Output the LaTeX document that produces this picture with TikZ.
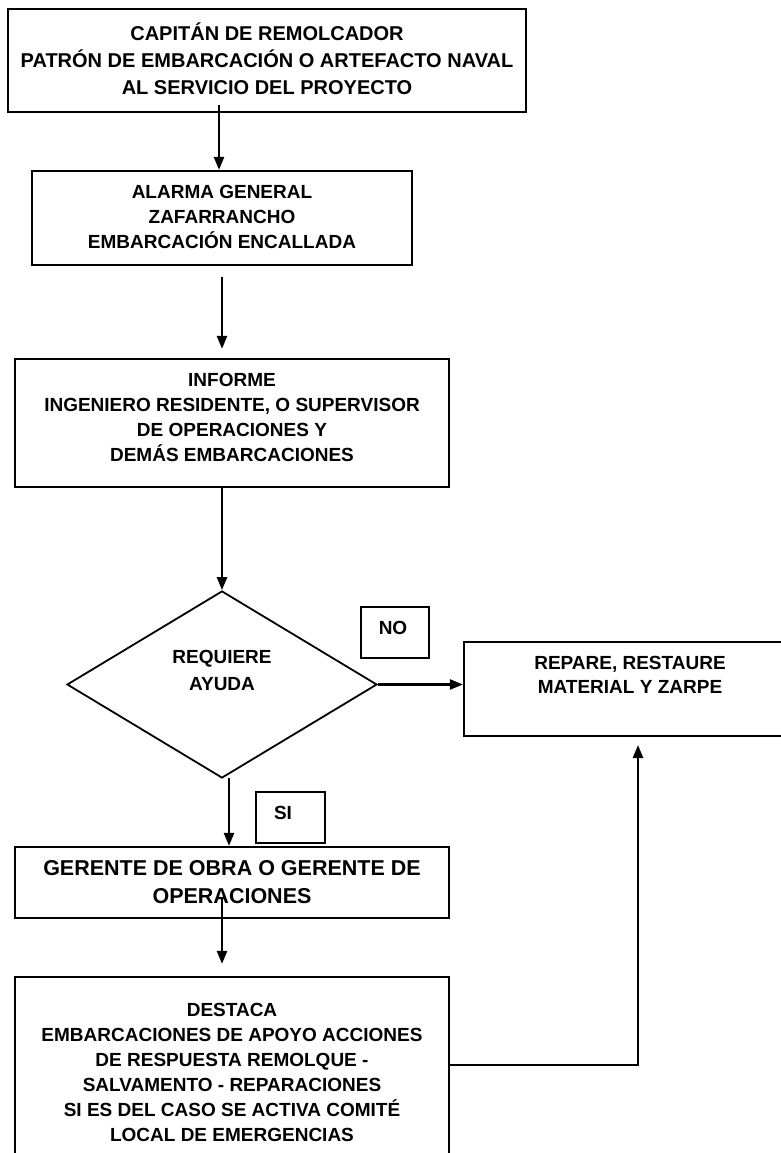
\documentclass[tikz,border=0pt]{standalone}
\usepackage{fontspec}
\setmainfont{Liberation Sans}
\usetikzlibrary{arrows.meta,shapes.geometric,calc}
\begin{document}
\begin{tikzpicture}[x=1pt,y=-1pt,
  box/.style={draw, rectangle, line width=2.2pt, inner sep=0pt},
  decbox/.style={draw, diamond, line width=1.8pt, inner sep=0pt},
  txt/.style={align=center, inner sep=0pt, font=\fontsize{19}{25}\selectfont\bfseries},
  arr/.style={line width=2.4pt, -{Triangle[length=13pt,width=10pt]}}
]
\useasboundingbox[fill=white] (0,0) rectangle (780,1153);

\node[box, minimum width=518pt, minimum height=103pt,
  label={[txt, font=\fontsize{20}{27}\selectfont\bfseries, yshift=1.5pt]center:{CAPITÁN DE REMOLCADOR\\PATRÓN DE EMBARCACIÓN O ARTEFACTO NAVAL\\AL SERVICIO DEL PROYECTO}}]
  (top) at (267,60.5) {};

\node[box, minimum width=380pt, minimum height=94pt,
  label={[txt, yshift=1pt]center:{ALARMA GENERAL\\ZAFARRANCHO\\EMBARCACIÓN ENCALLADA}}]
  (alarma) at (222,218) {};

\node[box, minimum width=434pt, minimum height=128pt,
  label={[txt, yshift=5.5pt]center:{INFORME\\INGENIERO RESIDENTE, O SUPERVISOR\\DE OPERACIONES Y\\DEMÁS EMBARCACIONES}}]
  (informe) at (232,423) {};

\node[decbox, minimum width=310pt, minimum height=187pt,
  label={[txt, font=\fontsize{19}{27}\selectfont\bfseries, yshift=14pt]center:{REQUIERE\\AYUDA}}]
  (dec) at (222,684.5) {};

\node[box, line width=1.9pt, minimum width=68pt, minimum height=51pt,
  label={[txt, xshift=-2pt, yshift=4.5pt]center:{NO}}]
  (no) at (395,632.5) {};

\node[box, minimum width=332pt, minimum height=94pt,
  label={[txt, font=\fontsize{19}{24}\selectfont\bfseries, yshift=14pt]center:{REPARE, RESTAURE\\MATERIAL Y ZARPE}}]
  (repare) at (630,689) {};

\node[box, line width=1.9pt, minimum width=69pt, minimum height=51pt,
  label={[txt, xshift=-7.5pt, yshift=4.5pt]center:{SI}}]
  (si) at (290.5,817.5) {};

\node[box, minimum width=434pt, minimum height=71pt,
  label={[txt, font=\fontsize{21.5}{28}\selectfont\bfseries]center:{GERENTE DE OBRA O GERENTE DE\\OPERACIONES}}]
  (gerente) at (232,882.5) {};

\node[box, minimum width=434pt, minimum height=188pt,
  label={[txt, yshift=-1pt]center:{DESTACA\\EMBARCACIONES DE APOYO ACCIONES\\DE RESPUESTA REMOLQUE -\\SALVAMENTO - REPARACIONES\\SI ES DEL CASO SE ACTIVA COMITÉ\\LOCAL DE EMERGENCIAS}}]
  (destaca) at (232,1071) {};

% connectors
\coordinate (c1) at (219,105);
\draw[arr] (c1) -- (c1 |- alarma.north);

\draw[arr, shorten <=11pt, shorten >=9pt] (alarma.south) -- (alarma.south |- informe.north);

\draw[arr] (dec.north |- informe.south) -- (dec.north);

\draw[arr] (dec.east) -- (dec.east -| repare.west);

\coordinate (c2) at (229,778);
\draw[arr] (c2) -- (c2 |- gerente.north);

\coordinate (c3) at (222,898);
\draw[arr, shorten >=12pt] (c3) -- (c3 |- destaca.north);

\coordinate (c4) at (449,1065);
\coordinate (c5) at (638,736);
\draw[arr, shorten >=9pt] (c4) -| (c5);
\end{tikzpicture}
\end{document}
